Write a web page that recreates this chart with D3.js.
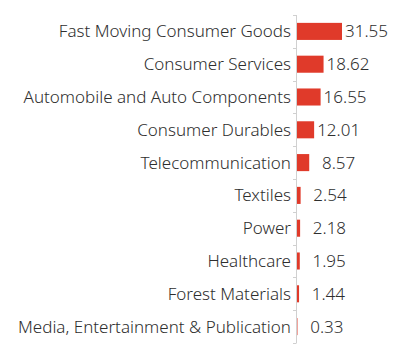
<!DOCTYPE html>
<html>
<head>
<meta charset="utf-8">
<script src="https://cdn.jsdelivr.net/npm/d3@7"></script>
<style>
  body { margin: 0; background: #fff; }
  text { font-family: "Noto Sans", sans-serif; fill: #2e2e2e; font-weight: 300; }
</style>
</head>
<body>
<div id="chart"></div>
<script>
const sectors = [
  "Fast Moving Consumer Goods",
  "Consumer Services",
  "Automobile and Auto Components",
  "Consumer Durables",
  "Telecommunication",
  "Textiles",
  "Power",
  "Healthcare",
  "Forest Materials",
  "Media, Entertainment & Publication"
]
const shares = [31.55, 18.62, 16.55, 12.01, 8.57, 2.54, 2.18, 1.95, 1.44, 0.33]

const data = sectors.map((s, i) => ({sector: s, value: shares[i]}))

let outerWidth = 411
let outerHeight = 352
let margin = {top: 15, bottom: 9, left: 0, right: 0}
let axisX = 297

const svg = d3.select("#chart")
    .append("svg")
    .attr("width", outerWidth)
    .attr("height", outerHeight)

const y = d3.scaleBand()
    .domain(sectors)
    .range([margin.top, outerHeight - margin.bottom])
    .paddingInner(0.48)
    .paddingOuter(0.24)

const x = d3.scaleLinear()
    .domain([0, d3.max(shares)])
    .range([axisX, axisX + 45])

// bars
svg.selectAll("rect.bar")
    .data(data)
    .enter()
    .append("rect")
    .attr("class", "bar")
    .attr("x", x(0))
    .attr("y", d => y(d.sector))
    .attr("width", d => x(d.value) - x(0))
    .attr("height", y.bandwidth())
    .attr("fill", "#e03a2a")

// y axis with ticks between categories
const ticks = d3.range(sectors.length + 1).map(i => margin.top + i * y.step())
const axis = svg.append("g")
axis.append("line")
    .attr("x1", axisX - 0.5).attr("x2", axisX - 0.5)
    .attr("y1", ticks[0]).attr("y2", ticks[ticks.length - 1])
    .attr("stroke", "#d0d0d0")
axis.selectAll("line.tick")
    .data(ticks)
    .enter()
    .append("line")
    .attr("class", "tick")
    .attr("x1", axisX - 4).attr("x2", axisX - 0.5)
    .attr("y1", d => Math.round(d) + 0.5).attr("y2", d => Math.round(d) + 0.5)
    .attr("stroke", "#d0d0d0")

// category labels
svg.selectAll("text.cat")
    .data(data)
    .enter()
    .append("text")
    .attr("class", "cat")
    .attr("x", axisX - 6)
    .attr("y", d => y(d.sector) + y.bandwidth() / 2)
    .attr("dy", "0.35em")
    .attr("text-anchor", "end")
    .style("font-size", "17px")
    .text(d => d.sector)

// value labels, padded to the same width
svg.selectAll("text.val")
    .data(data)
    .enter()
    .append("text")
    .attr("class", "val")
    .attr("x", d => x(d.value) + 3)
    .attr("y", d => y(d.sector) + y.bandwidth() / 2)
    .attr("dy", "0.35em")
    .style("font-size", "17px")
    .text(d => d3.format(".2f")(d.value).padStart(5, "\u2007"))
</script>
</body>
</html>
